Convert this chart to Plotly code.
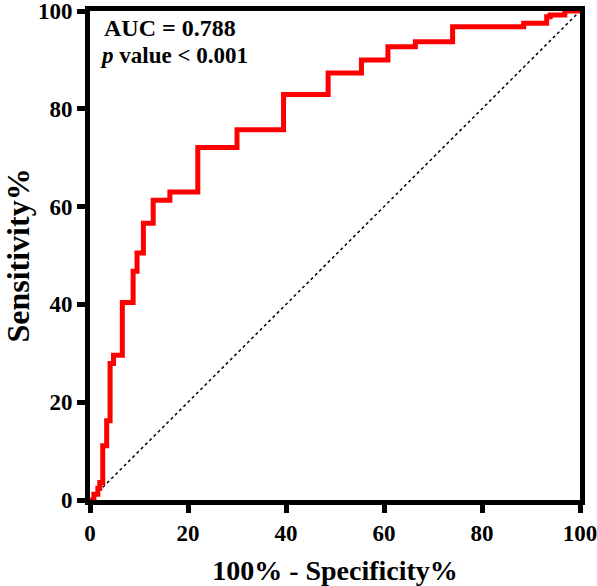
import plotly.graph_objects as go

# ROC curve corner points (100% - Specificity%, Sensitivity%)
fpr = [0, 0.8, 1.6, 2.0, 2.6, 3.4, 4.1, 4.8, 6.6, 8.8, 9.6, 10.9, 12.9, 16.3,
       22.0, 30.0, 39.5, 48.6, 55.4, 60.8, 66.4, 74.0, 88.5, 93.2, 93.9, 96.9, 100]
tpr = [0, 1.2, 2.4, 3.6, 11.1, 16.2, 27.9, 29.6, 40.4, 46.8, 50.5, 56.6, 61.3, 63.0,
       72.1, 75.7, 82.9, 87.3, 90.0, 92.7, 93.7, 96.8, 97.5, 98.8, 99.2, 100, 100]

ref_x = [0, 100]
ref_y = [0, 100]

tick_vals = [0, 20, 40, 60, 80, 100]
tick_text = ["0", "20", "40", "60", "80", "100"]

auc_text = "<b>AUC = 0.788</b>"
p_text = "<b><i>p</i> value &lt; 0.001</b>"

FONT = "Liberation Serif, Times New Roman, serif"

fig = go.Figure()
fig.add_trace(go.Scatter(x=ref_x, y=ref_y, mode="lines",
                         line=dict(color="black", width=1.5, dash="dot"),
                         hoverinfo="skip", showlegend=False))
fig.add_trace(go.Scatter(x=fpr, y=tpr, mode="lines", line_shape="hv",
                         line=dict(color="#ff0000", width=5),
                         showlegend=False))

axis_common = dict(
    range=[0, 100], tickvals=tick_vals, ticktext=tick_text,
    showgrid=False, zeroline=False, automargin=False,
    ticklabeloverflow="allow",
    showline=True, linecolor="black", linewidth=5, mirror=True,
    ticks="outside", ticklen=8, tickwidth=5, tickcolor="black",
    tickfont=dict(family=FONT, size=23, color="black", weight="bold"),
)

fig.update_xaxes(**axis_common,
                 title=dict(text="100% - Specificity%",
                            font=dict(family=FONT, size=28, color="black", weight="bold"),
                            standoff=18))
fig.update_yaxes(**axis_common,
                 title=dict(text="Sensitivity%",
                            font=dict(family=FONT, size=32, color="black", weight="bold"),
                            standoff=4))

fig.add_annotation(x=2.4, y=96.6, xref="x", yref="y", text=auc_text,
                   showarrow=False, xanchor="left", yanchor="middle",
                   font=dict(family=FONT, size=24, color="black"))
fig.add_annotation(x=1.6, y=91.0, xref="x", yref="y", text=p_text,
                   showarrow=False, xanchor="left", yanchor="middle",
                   font=dict(family=FONT, size=23, color="black"))

fig.update_layout(
    width=597, height=586,
    margin=dict(l=90, r=17, t=11, b=86),
    plot_bgcolor="white", paper_bgcolor="white",
)

fig.write_html("out.html", config={"displayModeBar": False},
               post_script="document.body.style.margin='0';")
